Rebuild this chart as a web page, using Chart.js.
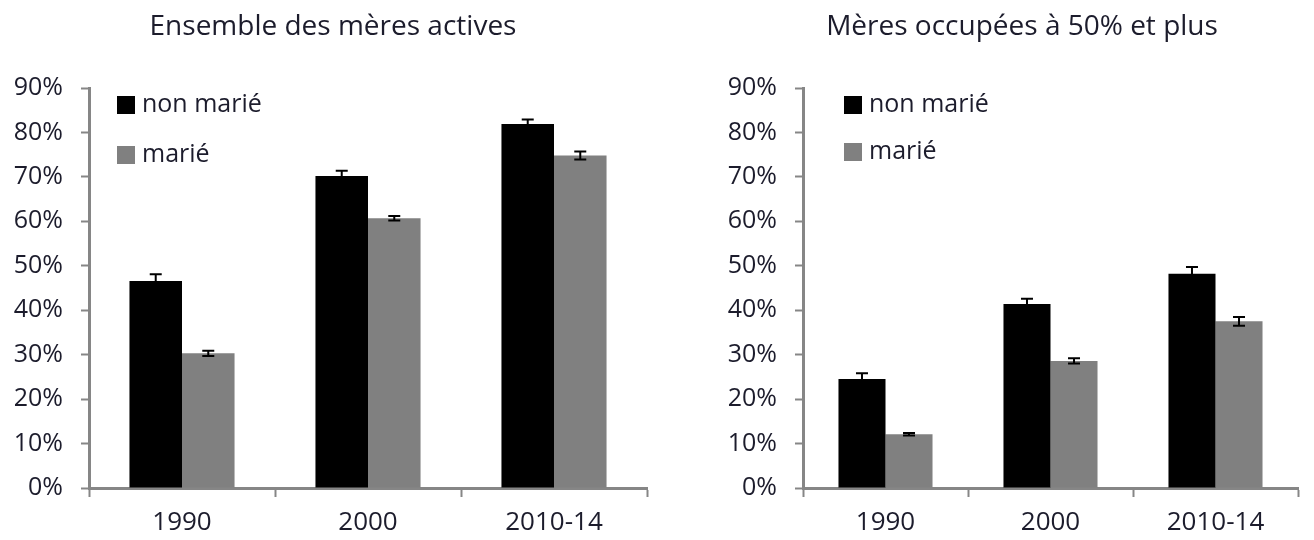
<!DOCTYPE html>
<html>
<head>
<meta charset="utf-8">
<script src="https://cdn.jsdelivr.net/npm/chart.js@4.4.0/dist/chart.umd.min.js"></script>
<style>
  html, body { margin: 0; padding: 0; background: #ffffff; }
  .panel { position: absolute; top: 0; height: 540px; }
  #left-panel { left: 0; width: 660px; }
  #right-panel { left: 660px; width: 654px; }
</style>
</head>
<body>
<div class="panel" id="left-panel"><canvas id="chart-left"></canvas></div>
<div class="panel" id="right-panel"><canvas id="chart-right"></canvas></div>
<script>
// Data (percent)
const categories = ["1990", "2000", "2010-14"];
const seriesLabels = ["non marié", "marié"];
const yTicks = [0, 10, 20, 30, 40, 50, 60, 70, 80, 90];

// Ensemble des mères actives
const activeNonMarie = [46.6, 70.2, 81.9];
const activeNonMarieErr = [1.5, 1.2, 1.0];
const activeMarie = [30.3, 60.7, 74.8];
const activeMarieErr = [0.6, 0.5, 0.9];

// Mères occupées à 50% et plus
const busyNonMarie = [24.5, 41.4, 48.2];
const busyNonMarieErr = [1.3, 1.2, 1.5];
const busyMarie = [12.1, 28.6, 37.5];
const busyMarieErr = [0.3, 0.6, 1.0];

const FONT = "'Open Sans', 'Noto Sans', sans-serif";
const TEXT_COLOR = "#1c1c2c";
const AXIS_COLOR = "#868686";
const BAR_BLACK = "#000000";
const BAR_GRAY = "#808080";

// Draws symmetric error bars on top of each bar
const errorBarPlugin = {
  id: "errorBars",
  afterDatasetsDraw(chart) {
    const ctx = chart.ctx;
    const yScale = chart.scales.y;
    chart.data.datasets.forEach((ds, di) => {
      const meta = chart.getDatasetMeta(di);
      meta.data.forEach((bar, i) => {
        const v = ds.data[i];
        const e = ds.errors[i];
        const top = yScale.getPixelForValue(v + e);
        const bottom = yScale.getPixelForValue(v - e);
        const x = bar.x;
        const cap = 6;
        ctx.save();
        ctx.strokeStyle = "#000000";
        ctx.lineWidth = 2;
        ctx.beginPath();
        ctx.moveTo(x, top);
        ctx.lineTo(x, bottom);
        ctx.moveTo(x - cap, top);
        ctx.lineTo(x + cap, top);
        ctx.moveTo(x - cap, bottom);
        ctx.lineTo(x + cap, bottom);
        ctx.stroke();
        ctx.restore();
      });
    });
  }
};

// Legend drawn inside the plot area, top left
const innerLegendPlugin = {
  id: "innerLegend",
  afterDraw(chart, args, opts) {
    const ctx = chart.ctx;
    const area = chart.chartArea;
    ctx.save();
    ctx.font = "25px " + FONT;
    ctx.textBaseline = "middle";
    chart.data.datasets.forEach((ds, i) => {
      const x = area.left + opts.dx;
      const y = area.top + opts.dy + i * opts.rowGap;
      ctx.fillStyle = ds.backgroundColor;
      ctx.fillRect(x, y, 18, 18);
      ctx.fillStyle = TEXT_COLOR;
      ctx.fillText(ds.label, x + 25, y + 9);
    });
    ctx.restore();
  }
};

// Panel title, centred where the reference puts it
const panelTitlePlugin = {
  id: "panelTitle",
  afterDraw(chart, args, opts) {
    const ctx = chart.ctx;
    ctx.save();
    ctx.font = "28px " + FONT;
    ctx.fillStyle = TEXT_COLOR;
    ctx.textAlign = "center";
    ctx.textBaseline = "middle";
    ctx.fillText(opts.text, opts.x, opts.y);
    ctx.restore();
  }
};

function buildChart(canvasId, title, nonMarie, nonMarieErr, marie, marieErr, cfg) {
  const ctx = document.getElementById(canvasId).getContext("2d");
  return new Chart(ctx, {
    type: "bar",
    data: {
      labels: categories,
      datasets: [
        {
          label: seriesLabels[0],
          data: nonMarie,
          errors: nonMarieErr,
          backgroundColor: BAR_BLACK,
          borderWidth: 0,
          categoryPercentage: cfg.catPct,
          barPercentage: 1.0
        },
        {
          label: seriesLabels[1],
          data: marie,
          errors: marieErr,
          backgroundColor: BAR_GRAY,
          borderWidth: 0,
          categoryPercentage: cfg.catPct,
          barPercentage: 1.0
        }
      ]
    },
    options: {
      responsive: true,
      maintainAspectRatio: false,
      animation: false,
      layout: {
        padding: { left: 0, right: cfg.padRight, top: 88, bottom: 0 }
      },
      plugins: {
        legend: { display: false },
        tooltip: { enabled: false },
        title: { display: false },
        panelTitle: { text: title, x: cfg.titleX, y: 27 },
        innerLegend: cfg.legend
      },
      scales: {
        x: {
          grid: {
            display: true,
            drawOnChartArea: false,
            drawTicks: true,
            tickLength: 9,
            tickColor: AXIS_COLOR,
            tickWidth: 2,
            offset: true
          },
          border: { display: true, color: AXIS_COLOR, width: 3 },
          ticks: {
            color: TEXT_COLOR,
            font: { family: FONT, size: 26 },
            padding: 10
          },
          afterFit(scale) { scale.height = 52; }
        },
        y: {
          min: 0,
          max: 90,
          afterBuildTicks(scale) {
            scale.ticks = yTicks.map(v => ({ value: v }));
          },
          grid: {
            display: true,
            drawOnChartArea: false,
            drawTicks: true,
            tickLength: 8,
            tickColor: AXIS_COLOR,
            tickWidth: 2
          },
          border: { display: true, color: AXIS_COLOR, width: 3 },
          ticks: {
            color: TEXT_COLOR,
            font: { family: FONT, size: 25 },
            padding: 18,
            callback: v => v + "%"
          },
          afterFit(scale) { scale.width = cfg.yWidth; }
        }
      }
    },
    plugins: [errorBarPlugin, innerLegendPlugin, panelTitlePlugin]
  });
}

buildChart("chart-left", "Ensemble des mères actives",
  activeNonMarie, activeNonMarieErr, activeMarie, activeMarieErr,
  { padRight: 13, yWidth: 89, catPct: 0.565, titleX: 333,
    legend: { dx: 28, dy: 8, rowGap: 50 } });

buildChart("chart-right", "Mères occupées à 50% et plus",
  busyNonMarie, busyNonMarieErr, busyMarie, busyMarieErr,
  { padRight: 16, yWidth: 143, catPct: 0.57, titleX: 362,
    legend: { dx: 41, dy: 8, rowGap: 47 } });
</script>
</body>
</html>
